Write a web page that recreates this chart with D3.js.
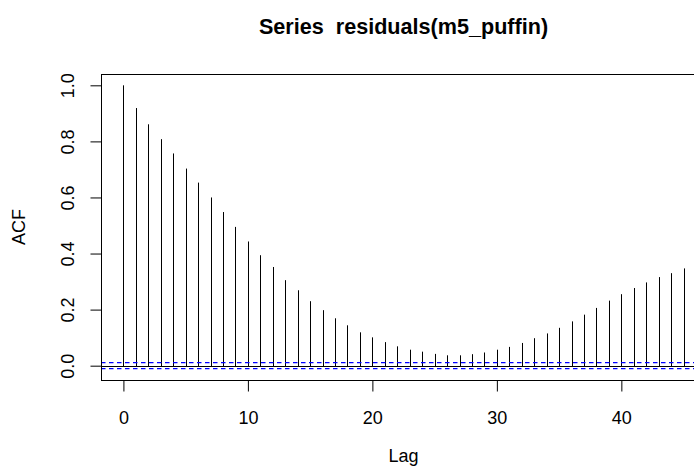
<!DOCTYPE html>
<head>
	<meta charset="utf-8">
	<title>Series residuals(m5_puffin)</title>
	<script src="https://d3js.org/d3.v7.min.js"></script>
	<style>
		body { margin: 0; background: #fff; }
		text { font-family: "Liberation Sans", Arial, sans-serif; }
	</style>
</head>
<body>
	<script type="text/javascript">
	// acf values, lag 0..45
	var lags = d3.range(0, 46);
	var acf = [1.000, 0.919, 0.861, 0.808, 0.757, 0.703, 0.653, 0.600, 0.548, 0.495,
		0.443, 0.394, 0.352, 0.305, 0.269, 0.230, 0.198, 0.169, 0.144, 0.119,
		0.101, 0.084, 0.069, 0.057, 0.050, 0.042, 0.037, 0.037, 0.041, 0.047,
		0.057, 0.067, 0.081, 0.098, 0.115, 0.135, 0.158, 0.182, 0.206, 0.232,
		0.255, 0.277, 0.297, 0.316, 0.330, 0.347];
	var ci = 0.0107;
	var xTicks = [0, 10, 20, 30, 40];
	var yTicks = [0.0, 0.2, 0.4, 0.6, 0.8, 1.0];

	var w = 694;
	var h = 472;
	var pLeft = 101, pRight = 706, pTop = 74, pBottom = 380;

	var svg = d3.select("body")
		.append("svg")
		.attr("width", w)
		.attr("height", h);

	var x = d3.scaleLinear().domain([-1.8, 46.8]).range([pLeft, pRight]);
	var y = d3.scaleLinear().domain([-0.0511, 1.0404]).range([pBottom, pTop]);

	svg.selectAll("line.bar")
		.data(acf)
		.enter()
		.append("line")
		.attr("class", "bar")
		.attr("x1", function(d, i){ return Math.round(x(lags[i])) + 0.5; })
		.attr("x2", function(d, i){ return Math.round(x(lags[i])) + 0.5; })
		.attr("y1", Math.round(y(0)) + 0.5)
		.attr("y2", function(d){ return y(d); })
		.attr("stroke", "black")
		.attr("stroke-width", 1);

	// zero line
	svg.append("line")
		.attr("x1", pLeft).attr("x2", pRight)
		.attr("y1", Math.round(y(0)) + 0.5).attr("y2", Math.round(y(0)) + 0.5)
		.attr("stroke", "black");

	// confidence bounds
	[ci, -ci].forEach(function(v){
		svg.append("line")
			.attr("x1", pLeft).attr("x2", pRight)
			.attr("y1", y(v)).attr("y2", y(v))
			.attr("stroke", "blue")
			.attr("stroke-width", 1.3)
			.attr("stroke-dasharray", "4.5,3.5");
	});

	// box
	svg.append("rect")
		.attr("x", pLeft + 0.5).attr("y", pTop + 0.5)
		.attr("width", pRight - pLeft).attr("height", pBottom - pTop)
		.attr("fill", "none")
		.attr("stroke", "black");

	var xAxis = d3.axisBottom(x).tickValues(xTicks).tickSize(11).tickPadding(0)
		.tickFormat(d3.format("d"));
	var gx = svg.append("g")
		.attr("transform", "translate(0," + (pBottom + 0.5) + ")")
		.call(xAxis);
	gx.select(".domain").remove();
	gx.selectAll("text")
		.attr("font-size", "18px")
		.attr("font-family", "Liberation Sans, Arial, sans-serif")
		.attr("dy", null)
		.attr("y", 423 - pBottom);

	var yAxis = d3.axisLeft(y).tickValues(yTicks).tickSize(11).tickPadding(0)
		.tickFormat(d3.format(".1f"));
	var gy = svg.append("g")
		.attr("transform", "translate(" + (pLeft + 0.5) + ",0)")
		.call(yAxis);
	gy.select(".domain").remove();
	gy.selectAll("text")
		.attr("font-size", "18px")
		.attr("font-family", "Liberation Sans, Arial, sans-serif")
		.attr("text-anchor", "middle")
		.attr("dy", null)
		.attr("x", null)
		.attr("y", 0)
		.attr("transform", "translate(" + (73 - pLeft) + ",0) rotate(-90)");

	svg.append("text")
		.attr("x", (pLeft + pRight) / 2)
		.attr("y", 34)
		.attr("text-anchor", "middle")
		.attr("font-weight", "bold")
		.attr("font-size", "21.6px")
		.style("white-space", "pre")
		.text("Series  residuals(m5_puffin)");

	svg.append("text")
		.attr("x", (pLeft + pRight) / 2)
		.attr("y", 462)
		.attr("text-anchor", "middle")
		.attr("font-size", "18px")
		.text("Lag");

	svg.append("text")
		.attr("transform", "translate(25," + ((pTop + pBottom) / 2) + ") rotate(-90)")
		.attr("text-anchor", "middle")
		.attr("font-size", "18px")
		.text("ACF");
	</script>
</body>
